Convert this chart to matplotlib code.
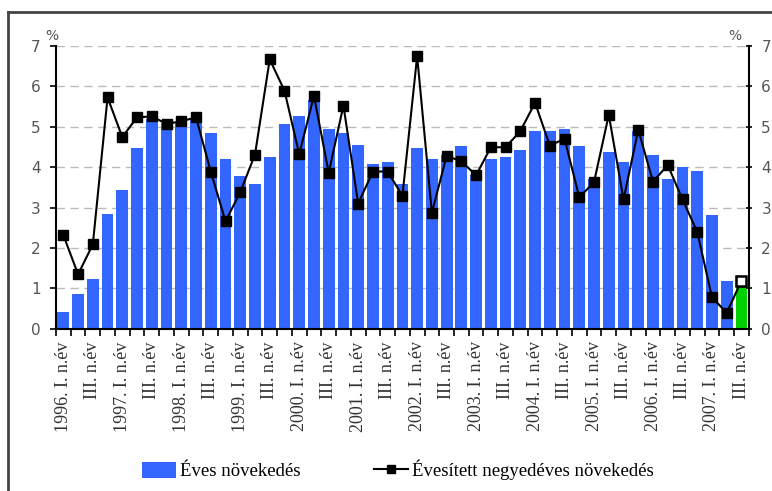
import matplotlib
matplotlib.use("Agg")
import matplotlib.pyplot as plt
from matplotlib.lines import Line2D
from matplotlib.patches import Patch
import numpy as np

years = list(range(1996, 2008))

annual_growth = [0.43, 0.86, 1.24, 2.85, 3.44, 4.46, 5.20, 5.08, 5.12, 5.18,
                 4.84, 4.21, 3.78, 3.58, 4.25, 5.06, 5.26, 5.65, 4.93, 4.84,
                 4.55, 4.08, 4.12, 3.58, 4.46, 4.20, 4.30, 4.51, 3.80, 4.21,
                 4.25, 4.42, 4.89, 4.89, 4.93, 4.51, 3.70, 4.37, 4.12, 4.89,
                 4.29, 3.70, 4.00, 3.90, 2.81, 1.19, 1.06]

annualized_qoq = [2.32, 1.35, 2.09, 5.72, 4.74, 5.23, 5.25, 5.07, 5.13, 5.23,
                  3.89, 2.66, 3.38, 4.31, 6.66, 5.89, 4.32, 5.76, 3.86, 5.52,
                  3.10, 3.89, 3.89, 3.29, 6.74, 2.87, 4.28, 4.14, 3.80, 4.49,
                  4.49, 4.89, 5.59, 4.53, 4.70, 3.25, 3.63, 5.29, 3.20, 4.92,
                  3.64, 4.05, 3.20, 2.40, 0.78, 0.40, 1.19]

n = len(annual_growth)
quarters = []
for y in years:
    for q in range(4):
        if len(quarters) < n:
            quarters.append((y, q))

tick_labels = []
for (y, q) in quarters:
    if q == 0:
        tick_labels.append(f"{y}. I. n.év")
    elif q == 2:
        tick_labels.append("III. n.év")
    else:
        tick_labels.append("")

yticks = [0, 1, 2, 3, 4, 5, 6, 7]

blue = "#3366FF"
green = "#00D000"
grey_txt = "#555555"

fig = plt.figure(figsize=(7.72, 4.91), dpi=100)
ax = fig.add_axes([0.0725, 0.330, 0.8975, 0.577])

x = np.arange(n)
colors = [blue] * (n - 1) + [green]
ax.bar(x, annual_growth, width=0.8, color=colors, zorder=2)
ax.plot(x, annualized_qoq, color="black", lw=1.5, marker="s", ms=6.5,
        markerfacecolor="black", markeredgecolor="black", zorder=3)
ax.plot(x[-1:], annualized_qoq[-1:], linestyle="none", marker="s", ms=6.5,
        markerfacecolor="white", markeredgecolor="black", mew=1.8, zorder=4)

ax.set_xlim(-0.45, n - 0.53)
ax.set_ylim(0, 7)
ax.set_yticks(yticks)
ax.set_yticklabels([str(v) for v in yticks], color=grey_txt, fontsize=11,
                   family="DejaVu Sans")
for v in yticks[1:]:
    ax.axhline(v, color="#bbbbbb", lw=1, ls=(0, (6, 4)), zorder=1)

ax.set_xticks(x)
ax.set_xticklabels(tick_labels, rotation=90, fontsize=13, family="Liberation Serif",
                   color="#333333", va="top", ha="center")
ax.tick_params(axis="x", which="major", length=0, pad=9)
ax.set_xticks(np.arange(-0.5, n, 1.0), minor=True)
ax.tick_params(axis="x", which="minor", length=5, width=1.2, direction="out", color="black")
ax.tick_params(axis="y", length=4, width=1.2, direction="out", pad=7, color="black")

for side in ["top", "right"]:
    ax.spines[side].set_visible(False)
ax.spines["left"].set_linewidth(1.5)
ax.spines["bottom"].set_linewidth(1.5)

ax2 = ax.twinx()
ax2.set_ylim(0, 7)
ax2.set_yticks(yticks)
ax2.set_yticklabels([str(v) for v in yticks], color=grey_txt, fontsize=11,
                    family="DejaVu Sans")
ax2.tick_params(axis="y", length=4, width=1.2, direction="inout", pad=7, color="black")
for side in ["top", "left", "bottom"]:
    ax2.spines[side].set_visible(False)
ax2.spines["right"].set_linewidth(1.5)

fig.text(52 / 772, 1 - 36 / 491, "%", ha="center", va="center", color=grey_txt, fontsize=10,
         family="DejaVu Sans")
fig.text(735 / 772, 1 - 36 / 491, "%", ha="center", va="center", color=grey_txt, fontsize=10,
         family="DejaVu Sans")

fig.add_artist(Line2D([8 / 772, 1.0], [1 - 11.5 / 491, 1 - 11.5 / 491],
                      transform=fig.transFigure, color="#444444", lw=2))
fig.add_artist(Line2D([8 / 772, 8 / 772], [0, 1 - 11.5 / 491],
                      transform=fig.transFigure, color="#444444", lw=2))

handles = [Patch(facecolor=blue, edgecolor="none"),
           Line2D([0], [0], color="black", lw=1.5, marker="s", ms=6)]
fig.legend(handles, ["Éves növekedés", "Évesített negyedéves növekedés"],
           loc="center", bbox_to_anchor=(398 / 772, 1 - 470 / 491), ncol=2,
           frameon=False, prop={"family": "Liberation Serif", "size": 13.5},
           handlelength=1.8, handleheight=0.9, handletextpad=0.25, columnspacing=3.9)

fig.savefig("out.png", dpi=100)
